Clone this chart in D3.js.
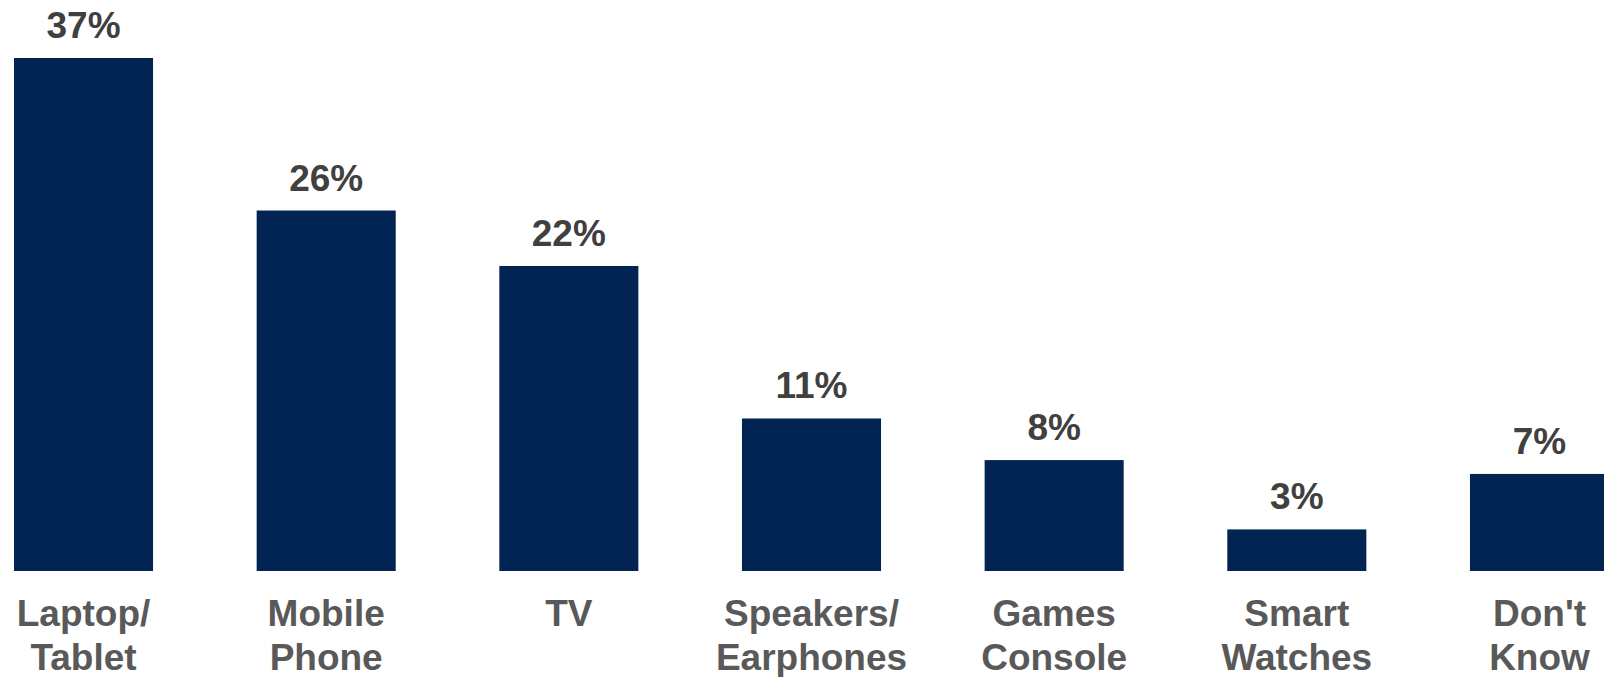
<!DOCTYPE html>
<html>
<head>
<meta charset="utf-8">
<script src="https://cdn.jsdelivr.net/npm/d3@7"></script>
<style>
  html, body { margin: 0; padding: 0; background: #ffffff; }
  svg { display: block; }
</style>
</head>
<body>
<svg id="chart" width="1604" height="677"></svg>
<script>
// Devices: share of responses
const categories = [
  ["Laptop/", "Tablet"],
  ["Mobile", "Phone"],
  ["TV"],
  ["Speakers/", "Earphones"],
  ["Games", "Console"],
  ["Smart", "Watches"],
  ["Don't", "Know"]
];
const values = [37, 26, 22, 11, 8, 3, 7];
const valueLabels = ["37%", "26%", "22%", "11%", "8%", "3%", "7%"];

const W = 1604, H = 677;
const baseY = 571;
const topY = 58;
const fontFamily = "'Liberation Sans', Arial, sans-serif";

const svg = d3.select("#chart");
const idx = d3.range(values.length);

const x = d3.scaleBand()
  .domain(idx)
  .range([14, 1609])
  .paddingInner(0.427)
  .paddingOuter(0);

const y = d3.scaleLinear()
  .domain([0, 37])
  .range([baseY, topY]);

// Bars
svg.append("g")
  .selectAll("rect")
  .data(idx)
  .join("rect")
  .attr("x", i => x(i))
  .attr("y", i => y(values[i]))
  .attr("width", x.bandwidth())
  .attr("height", i => baseY - y(values[i]))
  .attr("fill", "#022452");

// Value labels above bars
svg.append("g")
  .selectAll("text")
  .data(idx)
  .join("text")
  .attr("x", i => x(i) + x.bandwidth() / 2)
  .attr("y", i => y(values[i]) - 20)
  .attr("text-anchor", "middle")
  .attr("font-family", fontFamily)
  .attr("font-weight", "bold")
  .attr("font-size", 37)
  .attr("fill", "#404040")
  .text(i => valueLabels[i]);

// Category labels (two lines)
const cat = svg.append("g")
  .selectAll("text")
  .data(idx)
  .join("text")
  .attr("text-anchor", "middle")
  .attr("font-family", fontFamily)
  .attr("font-weight", "bold")
  .attr("font-size", 37)
  .attr("fill", "#595959");

cat.each(function(i) {
  const t = d3.select(this);
  categories[i].forEach((line, k) => {
    t.append("tspan")
      .attr("x", x(i) + x.bandwidth() / 2)
      .attr("y", 626 + k * 43.5)
      .text(line);
  });
});
</script>
</body>
</html>
